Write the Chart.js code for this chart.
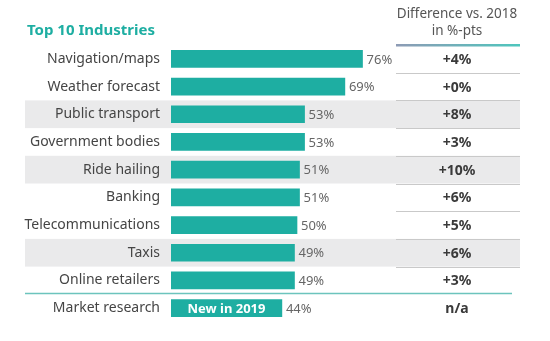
<!DOCTYPE html>
<html>
<head>
<meta charset="utf-8">
<script src="https://cdn.jsdelivr.net/npm/chart.js@4"></script>
<style>
  html, body { margin: 0; padding: 0; background: #fff; }
  #wrap { position: relative; width: 550px; height: 341px; }
</style>
</head>
<body>
<div id="wrap"><canvas id="chart" width="550" height="341"></canvas></div>
<script>
// Data
const industries = ["Navigation/maps", "Weather forecast", "Public transport", "Government bodies", "Ride hailing", "Banking", "Telecommunications", "Taxis", "Online retailers", "Market research"];
const shares = [76, 69, 53, 53, 51, 51, 50, 49, 49, 44];
const diffs = ["+4%", "+0%", "+8%", "+3%", "+10%", "+6%", "+5%", "+6%", "+3%", "n/a"];
const shadedRows = [2, 4, 7];
const chartTitle = "Top 10 Industries";
const diffHeader = ["Difference vs. 2018", "in %-pts"];
const newLabel = "New in 2019";

const FONT = "'Noto Sans', 'Open Sans', sans-serif";
const TEAL = "#1eaea2";

// backgrounds, header, separators
const decor = {
  id: "decor",
  beforeDraw(chart) {
    const { ctx, scales: { y } } = chart;
    const step = y.getPixelForValue(1) - y.getPixelForValue(0);
    ctx.save();
    ctx.fillStyle = "#eaeaeb";
    shadedRows.forEach(i => {
      const c = y.getPixelForValue(i);
      ctx.fillRect(25, c - step / 2, 495, step);
    });
    // right column separators
    ctx.strokeStyle = "#c9c9c9";
    ctx.lineWidth = 1.2;
    for (let i = 0; i < 8; i++) {
      const yy = Math.round(y.getPixelForValue(i) + step / 2) + 0.5;
      ctx.beginPath(); ctx.moveTo(396, yy); ctx.lineTo(520, yy); ctx.stroke();
    }
    // teal divider before the new entry
    const yl = Math.round(y.getPixelForValue(8) + step / 2) - 0.5;
    ctx.strokeStyle = "#6cc4bd";
    ctx.lineWidth = 1.5;
    ctx.beginPath(); ctx.moveTo(25, yl); ctx.lineTo(512, yl); ctx.stroke();

    // header
    ctx.fillStyle = TEAL;
    ctx.font = `bold 15px ${FONT}`;
    ctx.textAlign = "left"; ctx.textBaseline = "middle";
    ctx.fillText(chartTitle, 27, 31);
    ctx.fillStyle = "#555";
    ctx.font = `13.5px ${FONT}`;
    ctx.textAlign = "center";
    ctx.fillText(diffHeader[0], 457, 14);
    ctx.fillText(diffHeader[1], 457, 31);
    const g = ctx.createLinearGradient(396, 0, 520, 0);
    g.addColorStop(0, "#8e9bb5");
    g.addColorStop(1, "#4ec6bd");
    ctx.fillStyle = g;
    ctx.fillRect(396, 44, 124, 2.5);
    ctx.restore();
  },
  afterDatasetsDraw(chart) {
    const { ctx, scales: { y } } = chart;
    const meta = chart.getDatasetMeta(0);
    ctx.save();
    ctx.textBaseline = "middle";
    meta.data.forEach((bar, i) => {
      ctx.font = `13px ${FONT}`;
      ctx.fillStyle = "#666";
      ctx.textAlign = "left";
      ctx.fillText(shares[i] + "%", bar.x + 4, bar.y + 1);
      ctx.font = `bold 14px ${FONT}`;
      ctx.fillStyle = "#3a3a3a";
      ctx.textAlign = "center";
      ctx.fillText(diffs[i], 457, y.getPixelForValue(i) + 1);
    });
    const last = meta.data[meta.data.length - 1];
    ctx.font = `bold 13px ${FONT}`;
    ctx.fillStyle = "#fff";
    ctx.textAlign = "center";
    ctx.fillText(newLabel, (last.base + last.x) / 2, last.y + 1);
    ctx.restore();
  }
};

new Chart(document.getElementById("chart"), {
  type: "bar",
  data: {
    labels: industries,
    datasets: [{ data: shares, backgroundColor: TEAL, barThickness: 17, borderWidth: 0 }]
  },
  options: {
    indexAxis: "y",
    responsive: false,
    animation: false,
    layout: { padding: { left: 0, right: 127, top: 45, bottom: 19 } },
    plugins: { legend: { display: false }, tooltip: { enabled: false } },
    scales: {
      x: { display: false, min: 0, max: 100 },
      y: {
        grid: { display: false },
        border: { display: false },
        ticks: { color: "#454545", font: { family: FONT, size: 14 }, padding: 3 },
        afterFit: s => { s.width = 171; }
      }
    }
  },
  plugins: [decor]
});
</script>
</body>
</html>
